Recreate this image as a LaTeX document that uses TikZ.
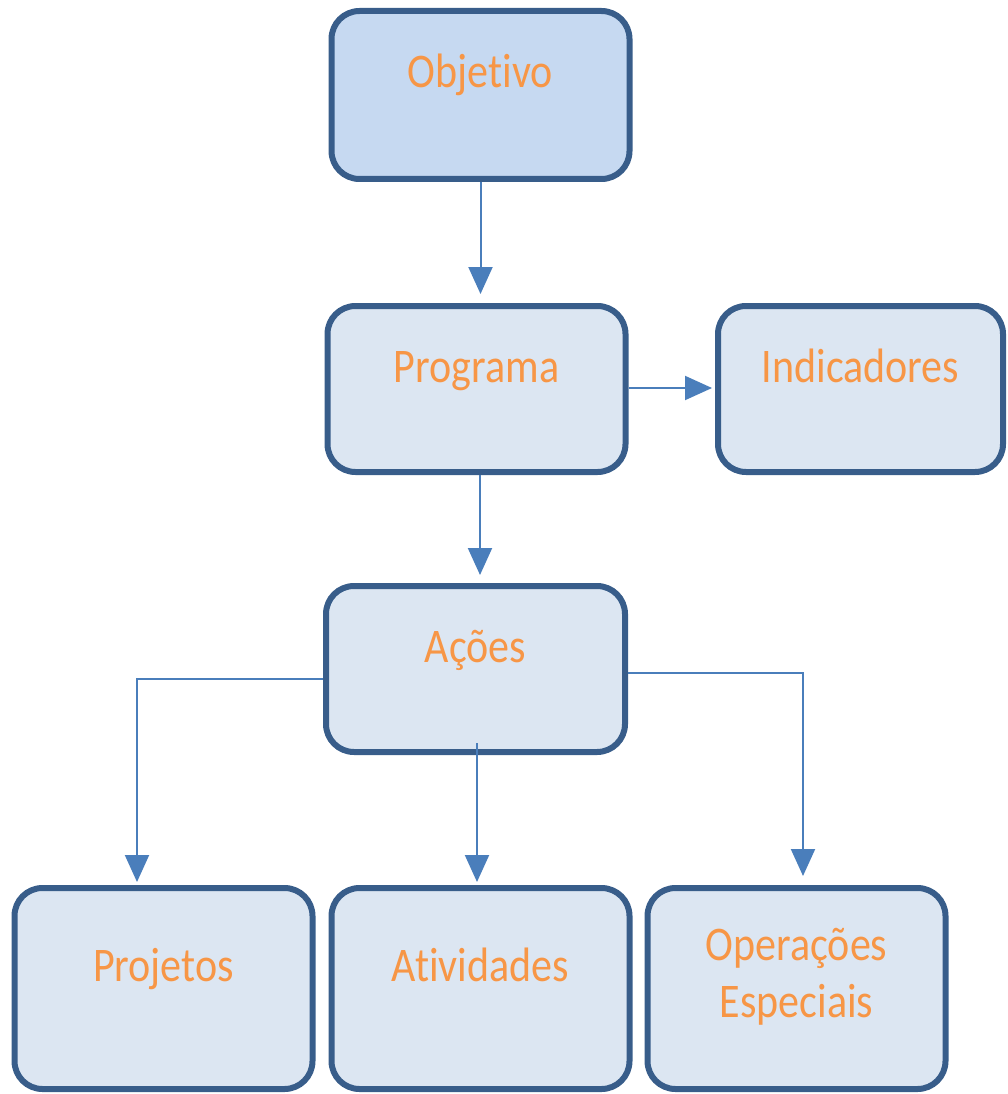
\documentclass[tikz,border=0pt]{standalone}
\usepackage{fontspec}
\setmainfont{Carlito}[Ligatures = NoCommon]
\usepackage{graphicx}
\usetikzlibrary{arrows.meta}

\definecolor{borda}{RGB}{56,93,138}
\definecolor{fundo}{RGB}{220,230,242}
\definecolor{fundoobj}{RGB}{198,217,241}
\definecolor{seta}{RGB}{74,126,187}
\definecolor{laranja}{RGB}{247,150,70}

\newcommand{\alto}[1]{\scalebox{1}[1.15]{#1}}

\tikzset{
	caixa/.style = {draw = borda, line width = 6pt, fill = fundo, rounded corners = 28pt,
		minimum width = 298pt, minimum height = 166pt, text = laranja,
		font = \fontsize{42}{57}\selectfont, text height = 34pt, text depth = 48pt},
	caixabaixo/.style = {caixa, minimum height = 201pt},
	ligacao/.style = {draw = seta, line width = 2pt, -{Triangle[length = 27pt, width = 24pt]}}
}

\begin{document}
\begin{tikzpicture}[x = 1pt, y = -1pt]
			\useasboundingbox (0,0) rectangle (1007,1094);

			\begin{scope}
				\node [caixa, fill = fundoobj, minimum height = 168pt] (obj) at (480.5,95) {\alto{Objetivo}};
				\node [caixa] (prog) at (476.5,389) {\alto{Programa}};
				\node [caixa, minimum width = 285pt] (ind) at (860.5,389) {\alto{Indicadores}};
				\node [caixa, minimum width = 299pt] (acoes) at (475.5,669) {\alto{Ações}};
			\end{scope}

			\begin{scope}
				\node [caixabaixo] (proj) at (163.5,988.5) {\alto{Projetos}};
				\node [caixabaixo] (ativ) at (480.5,988.5) {\alto{Atividades}};
				\node [caixabaixo, text height = {}, text depth = {}, align = center] (opesp) at (796.5,988.5)
					{\alto{Operações}\\\alto{Especiais}\rule[-32pt]{0pt}{32pt}};
			\end{scope}

			\begin{scope}[ligacao]
				\draw [shorten >= 9pt] (obj.south) -- (obj.south |- prog.north);
				\draw [shorten >= 8pt] ([xshift = 3.5pt]prog.south) -- ([xshift = 3.5pt]prog.south |- acoes.north);
				\draw [shorten >= 3pt] ([yshift = 1pt]prog.east) -- ([yshift = 1pt]ind.west);
			\end{scope}

			\begin{scope}[ligacao]
				\draw [shorten >= 3pt] ([yshift = -10pt]acoes.west) -| ([xshift = -26.5pt]proj.north);
				\draw [shorten >= 3pt] ([xshift = 1.5pt, yshift = 12pt]acoes.south) -- ([xshift = 1.5pt]acoes.south |- ativ.north);
				\draw [shorten >= 9pt] ([yshift = -4pt]acoes.east) -| ([xshift = 6.5pt]opesp.north);
			\end{scope}
		\end{tikzpicture}
\end{document}
